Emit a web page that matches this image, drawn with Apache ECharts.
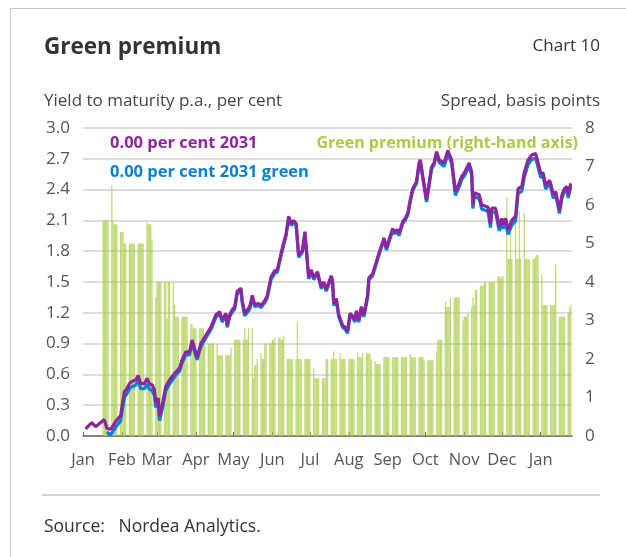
<!DOCTYPE html>
<html>
<head>
<meta charset="utf-8">
<script src="https://cdn.jsdelivr.net/npm/echarts@6/dist/echarts.min.js"></script>
<style>
  html, body { margin: 0; padding: 0; background: #fff; }
  #chart { width: 626px; height: 557px; }
</style>
</head>
<body>
<div id="chart"></div>
<script>
// yield lines (per cent)
const lineDates = [
  '2022-01-03','2022-01-08','2022-01-11','2022-01-14','2022-01-18','2022-01-20','2022-01-23','2022-01-27','2022-01-31',
  '2022-02-03','2022-02-05','2022-02-07','2022-02-09','2022-02-12','2022-02-14','2022-02-16','2022-02-19','2022-02-21','2022-02-23','2022-02-25','2022-02-27','2022-02-28',
  '2022-03-02','2022-03-03','2022-03-05','2022-03-08','2022-03-11','2022-03-15','2022-03-16','2022-03-19','2022-03-21','2022-03-24','2022-03-27','2022-03-29','2022-03-31',
  '2022-04-02','2022-04-05','2022-04-09','2022-04-13','2022-04-17','2022-04-20','2022-04-22','2022-04-25','2022-04-26','2022-04-28','2022-04-30',
  '2022-05-02','2022-05-04','2022-05-07','2022-05-08','2022-05-10','2022-05-14','2022-05-16','2022-05-18','2022-05-21','2022-05-23','2022-05-26','2022-05-28','2022-05-31',
  '2022-06-03','2022-06-05','2022-06-08','2022-06-10','2022-06-12','2022-06-14','2022-06-16','2022-06-18','2022-06-20','2022-06-22','2022-06-25','2022-06-27','2022-06-30',
  '2022-07-02','2022-07-04','2022-07-07','2022-07-10','2022-07-12','2022-07-14','2022-07-18','2022-07-19','2022-07-20','2022-07-22','2022-07-24','2022-07-27','2022-07-29','2022-07-31',
  '2022-08-02','2022-08-04','2022-08-06','2022-08-07','2022-08-09','2022-08-11','2022-08-13','2022-08-16','2022-08-17','2022-08-20','2022-08-23','2022-08-25','2022-08-28','2022-08-29','2022-08-31',
  '2022-09-02','2022-09-05','2022-09-06','2022-09-09','2022-09-10','2022-09-13','2022-09-15','2022-09-17','2022-09-19','2022-09-21','2022-09-24','2022-09-26','2022-09-27','2022-09-29',
  '2022-10-02','2022-10-04','2022-10-06','2022-10-08','2022-10-10','2022-10-12','2022-10-16','2022-10-19','2022-10-22','2022-10-25','2022-10-28','2022-10-30',
  '2022-11-01','2022-11-05','2022-11-07','2022-11-08','2022-11-09','2022-11-13','2022-11-15','2022-11-20','2022-11-22','2022-11-23','2022-11-26','2022-11-29',
  '2022-12-01','2022-12-02','2022-12-04','2022-12-06','2022-12-09','2022-12-10','2022-12-12','2022-12-14','2022-12-17','2022-12-19','2022-12-22','2022-12-25','2022-12-28','2022-12-30',
  '2023-01-01','2023-01-03','2023-01-05','2023-01-08','2023-01-09','2023-01-11','2023-01-13','2023-01-16','2023-01-18','2023-01-20','2023-01-22','2023-01-23','2023-01-25'
];
const conventional = [
  0.07,0.13,0.09,0.12,0.16,0.075,0.065,0.14,0.20,
  0.43,0.46,0.51,0.53,0.545,0.59,0.51,0.51,0.56,0.51,0.50,0.45,0.32,
  0.37,0.19,0.29,0.48,0.545,0.61,0.625,0.66,0.74,0.82,0.82,0.935,0.85,
  0.77,0.90,0.98,1.06,1.18,1.21,1.13,1.195,1.08,1.18,1.23,
  1.26,1.41,1.44,1.32,1.195,1.26,1.37,1.28,1.29,1.27,1.32,1.37,1.55,
  1.61,1.62,1.78,1.88,1.97,2.14,2.07,2.10,2.07,1.76,1.81,1.99,1.55,
  1.62,1.54,1.60,1.45,1.50,1.43,1.56,1.52,1.29,1.34,1.18,1.08,1.06,1.02,
  1.195,1.17,1.13,1.22,1.13,1.26,1.18,1.37,1.54,1.58,1.70,1.78,1.89,1.93,1.83,
  1.91,2.02,1.99,2.01,1.97,2.09,2.12,2.17,2.30,2.41,2.48,2.66,2.69,2.53,
  2.30,2.46,2.62,2.66,2.77,2.69,2.66,2.78,2.69,2.38,2.46,2.53,
  2.56,2.66,2.57,2.25,2.37,2.35,2.25,2.23,2.07,2.22,2.22,2.04,
  2.12,2.06,2.12,2.01,2.10,2.10,2.14,2.41,2.43,2.57,2.69,2.74,2.75,2.66,
  2.56,2.56,2.44,2.49,2.46,2.35,2.38,2.20,2.35,2.41,2.43,2.35,2.46
];
const green = [
  null,null,null,null,null,0.04,0.01,0.085,0.145,
  0.38,0.41,0.46,0.48,0.495,0.54,0.46,0.46,0.505,0.455,0.445,0.395,0.28,
  0.33,0.15,0.25,0.44,0.505,0.575,0.595,0.63,0.71,0.79,0.79,0.905,0.82,
  0.742,0.872,0.955,1.036,1.156,1.189,1.109,1.174,1.059,1.159,1.207,
  1.235,1.385,1.415,1.295,1.17,1.235,1.345,1.26,1.27,1.25,1.30,1.347,1.526,
  1.585,1.595,1.756,1.857,1.95,2.12,2.05,2.08,2.05,1.74,1.79,1.97,1.53,
  1.60,1.523,1.585,1.435,1.485,1.41,1.54,1.50,1.27,1.32,1.16,1.06,1.04,1.00,
  1.175,1.15,1.11,1.20,1.11,1.24,1.16,1.35,1.52,1.56,1.681,1.761,1.87,1.91,1.81,
  1.89,2.00,1.97,1.99,1.95,2.07,2.10,2.15,2.28,2.39,2.46,2.64,2.67,2.51,
  2.28,2.44,2.60,2.64,2.748,2.665,2.625,2.745,2.654,2.344,2.424,2.499,
  2.53,2.628,2.536,2.214,2.332,2.31,2.21,2.19,2.03,2.18,2.18,1.998,
  2.078,2.018,2.074,1.964,2.054,2.054,2.094,2.364,2.384,2.524,2.644,2.694,2.704,2.614,
  2.52,2.526,2.406,2.456,2.426,2.316,2.346,2.168,2.318,2.378,2.398,2.318,2.428
];

// green premium, basis points, one value per weekday from Mon 17 Jan 2022
const premiumStart = '2022-01-17';
const premium = [
  5.6,5.6,5.6,5.6,5.6,  6.5,5.6,5.5,5.5,5.5,  5.3,5.3,5.3,5.0,5.0,  5.0,5.0,5.0,5.0,5.0,
  5.0,5.0,5.0,5.0,5.0,  5.55,5.5,5.5,5.5,5.1, 3.6,4.0,4.0,4.0,4.0,  4.0,4.0,3.05,4.0,4.0,
  4.0,3.4,3.1,3.1,3.1,  3.1,3.1,3.1,3.1,3.1,  2.9,2.9,2.8,2.8,2.8,  2.8,2.8,2.8,2.8,2.4,
  2.4,2.4,2.4,2.4,2.4,  2.4,2.1,2.1,2.1,2.1,  2.1,2.1,2.1,2.1,2.3,  2.5,2.5,2.5,2.5,2.5,
  2.5,2.8,2.5,2.5,2.8,  2.8,1.5,1.85,1.85,2.0, 2.15,2.0,2.0,2.4,2.4, 2.4,2.4,2.5,2.5,2.55,
  2.55,2.55,2.5,2.5,2.6, 2.0,2.0,2.0,2.0,2.0, 2.0,2.97,2.0,2.0,2.0, 2.0,2.0,2.0,2.0,2.0,
  1.75,1.5,1.5,1.5,1.5, 1.5,1.5,1.5,2.0,2.0,  2.0,2.0,2.2,2.0,2.0,  2.15,2.0,2.0,2.0,2.0,
  2.0,2.0,2.0,2.0,2.0,  2.15,2.05,2.05,2.05,2.15, 2.15,2.15,2.15,2.15,2.0, 1.95,1.87,1.87,1.87,1.87,
  2.05,2.05,2.05,2.05,2.05, 2.05,2.05,2.05,2.05,2.05, 2.05,2.05,2.05,2.05,2.05, 2.15,2.05,2.05,2.05,2.05,
  2.05,2.05,2.05,2.05,1.97, 1.97,1.97,1.97,1.97,1.97, 2.2,2.5,2.5,2.5,2.5, 3.5,3.35,3.35,3.35,3.6,
  3.6,3.6,3.6,3.6,3.6,  3.0,3.1,3.1,3.1,3.2,  3.35,3.6,3.4,3.8,3.8,  3.9,3.9,3.9,4.0,4.0,
  4.0,4.0,4.0,4.0,4.0,  4.15,4.15,4.1,4.15,4.15, 6.2,4.6,4.6,5.6,4.6, 5.9,4.6,4.6,5.85,4.6,
  5.8,4.6,4.6,4.6,4.6,  4.6,4.6,4.65,4.7,4.7,  4.2,3.4,3.4,3.4,3.4,  3.4,3.4,3.4,3.4,4.45,
  3.1,3.1,3.1,3.1,3.1,  3.2,3.3,3.4
];

const monthLabels = ['Jan','Feb','Mar','Apr','May','Jun','Jul','Aug','Sep','Oct','Nov','Dec','Jan'];
const leftTicks = [0, 3.0, 0.3];
const rightTicks = [0, 8, 1];

const toTime = (s) => new Date(s + 'T00:00:00').getTime();

// weekday dates for the premium bars
const premiumDates = [];
{
  const d = new Date(premiumStart + 'T00:00:00');
  while (premiumDates.length < premium.length) {
    const wd = d.getDay();
    if (wd !== 0 && wd !== 6) premiumDates.push(d.getTime());
    d.setDate(d.getDate() + 1);
  }
}
const monthStarts = monthLabels.map((_, i) => new Date(2022, i, 1).getTime());

const textColor = '#444';
const font = '"Open Sans", "Noto Sans", sans-serif';

const chart = echarts.init(document.getElementById('chart'));
chart.setOption({
  backgroundColor: '#fff',
  animation: false,
  textStyle: { fontFamily: font },
  grid: { left: 83, right: 54, top: 128, bottom: 121, containLabel: false },
  xAxis: {
    type: 'value',
    min: new Date(2022, 0, 1).getTime(),
    max: new Date(2023, 0, 26).getTime(),
    axisLine: { lineStyle: { color: '#666', width: 1.5 } },
    axisTick: { inside: true, length: 4, lineStyle: { color: '#666' }, customValues: monthStarts },
    axisLabel: {
      customValues: monthStarts,
      color: '#555', fontSize: 16.5, margin: 16, fontFamily: font,
      formatter: (v) => {
        const i = monthStarts.indexOf(v);
        return i >= 0 ? monthLabels[i] : '';
      },
    },
    splitLine: { show: false },
  },
  yAxis: [
    {
      type: 'value',
      min: leftTicks[0], max: leftTicks[1], interval: leftTicks[2],
      axisLine: { show: false },
      axisTick: { show: false },
      axisLabel: { color: '#555', fontSize: 17, margin: 13, formatter: (v) => v.toFixed(1) },
      splitLine: { lineStyle: { color: '#d2d2d2', width: 1.5 } },
    },
    {
      type: 'value',
      min: rightTicks[0], max: rightTicks[1], interval: rightTicks[2],
      position: 'right',
      axisLine: { show: false },
      axisTick: { show: false },
      axisLabel: { color: '#555', fontSize: 17, margin: 13 },
      splitLine: { show: false },
    },
  ],
  series: [
    {
      name: 'Green premium (right-hand axis)',
      type: 'bar',
      yAxisIndex: 1,
      barWidth: 1.3,
      itemStyle: { color: 'rgba(166, 204, 62, 0.7)' },
      data: premiumDates.map((d, i) => [d, premium[i]]),
      z: 1,
    },
    {
      name: '0.00 per cent 2031 green',
      type: 'line',
      showSymbol: false,
      connectNulls: true,
      lineStyle: { color: '#0a80d2', width: 3.2 },
      data: lineDates.map((d, i) => [toTime(d), green[i]]),
      z: 3,
    },
    {
      name: '0.00 per cent 2031',
      type: 'line',
      showSymbol: false,
      lineStyle: { color: '#8e24a0', width: 3.2 },
      data: lineDates.map((d, i) => [toTime(d), conventional[i]]),
      z: 4,
    },
  ],
  graphic: [
    { type: 'rect', shape: { x: 10.5, y: 8.5, width: 640, height: 620 }, style: { fill: 'none', stroke: '#c8c8c8', lineWidth: 1 }, silent: true },
    { type: 'text', x: 44, y: 48, style: { text: 'Green premium', font: 'bold 22.5px ' + font, fill: '#333', verticalAlign: 'middle' } },
    { type: 'text', x: 600, y: 46, style: { text: 'Chart 10', font: '17px ' + font, fill: '#333', align: 'right', verticalAlign: 'middle' } },
    { type: 'text', x: 44, y: 101, style: { text: 'Yield to maturity p.a., per cent', font: '17px ' + font, fill: textColor, verticalAlign: 'middle' } },
    { type: 'text', x: 600, y: 101, style: { text: 'Spread, basis points', font: '17px ' + font, fill: textColor, align: 'right', verticalAlign: 'middle' } },
    { type: 'text', x: 110, y: 143, z: 10, style: { text: '0.00 per cent 2031', font: 'bold 16.5px ' + font, fill: '#8e24a0', verticalAlign: 'middle' } },
    { type: 'text', x: 110, y: 172, z: 10, style: { text: '0.00 per cent 2031 green', font: 'bold 16.5px ' + font, fill: '#0a80d2', verticalAlign: 'middle' } },
    { type: 'text', x: 578, y: 143, z: 10, style: { text: 'Green premium (right-hand axis)', font: 'bold 16px ' + font, fill: '#a8cc48', align: 'right', verticalAlign: 'middle' } },
    { type: 'line', shape: { x1: 42, y1: 495, x2: 600, y2: 495 }, style: { stroke: '#c8c8c8', lineWidth: 1.5 } },
    { type: 'text', x: 44, y: 527, style: { text: 'Source:   Nordea Analytics.', font: '17.5px ' + font, fill: '#333', verticalAlign: 'middle' } },
  ],
});
</script>
</body>
</html>
